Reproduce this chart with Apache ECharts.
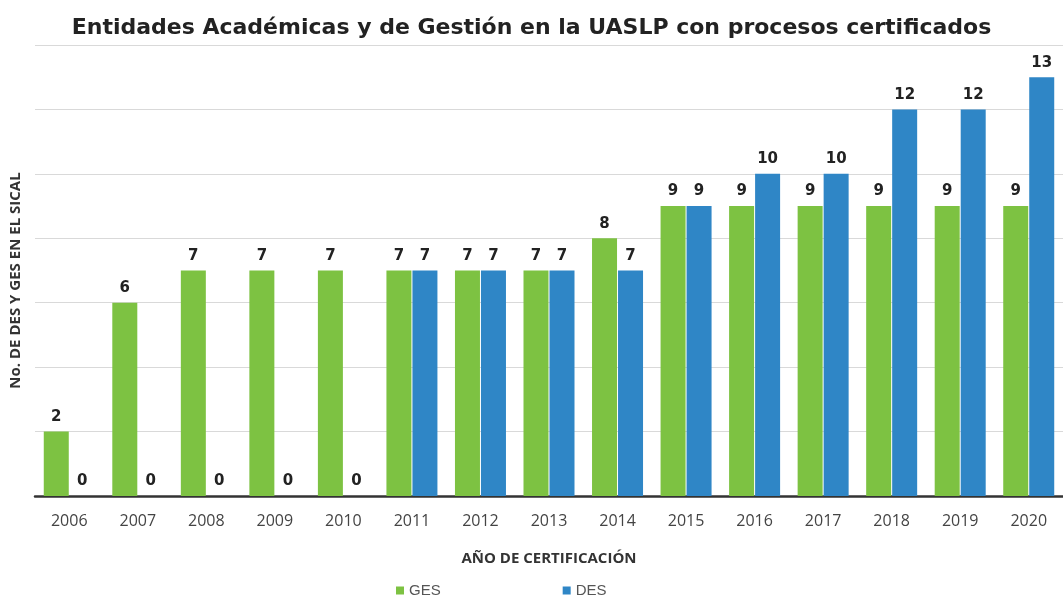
<!DOCTYPE html>
<html>
<head>
<meta charset="utf-8">
<script src="https://cdn.jsdelivr.net/npm/echarts@6/dist/echarts.min.js"></script>
<style>
  html, body { margin: 0; padding: 0; background: #fff; }
  #chart { width: 1063px; height: 603px; }
</style>
</head>
<body>
<div id="chart"></div>
<script>
// data
const years = ['2006', '2007', '2008', '2009', '2010', '2011', '2012', '2013', '2014', '2015', '2016', '2017', '2018', '2019', '2020']
const gesValues = [2, 6, 7, 7, 7, 7, 7, 7, 8, 9, 9, 9, 9, 9, 9]
const desValues = [0, 0, 0, 0, 0, 7, 7, 7, 7, 9, 10, 10, 12, 12, 13]

const chart = echarts.init(document.getElementById('chart'))

const labelStyle = {
  show: true,
  position: 'top',
  distance: 7,
  color: '#222',
  fontWeight: 'bold',
  fontSize: 15,
  fontFamily: 'DejaVu Sans'
}

chart.setOption({
  animation: false,
  title: {
    text: 'Entidades Académicas y de Gestión en la UASLP con procesos certificados',
    left: 'center',
    top: 12,
    textStyle: {
      fontFamily: 'DejaVu Sans',
      fontWeight: 'bold',
      fontSize: 22,
      color: '#222'
    }
  },
  legend: {
    bottom: 0,
    left: 391,
    itemGap: 122,
    itemWidth: 8,
    itemHeight: 8,
    icon: 'rect',
    textStyle: { color: '#555', fontSize: 15, fontFamily: 'Liberation Sans' },
    data: ['GES', 'DES']
  },
  grid: {
    left: 30,
    width: 1042,
    top: 45,
    bottom: 107
  },
  xAxis: {
    type: 'category',
    data: years,
    name: 'AÑO DE CERTIFICACIÓN',
    nameLocation: 'middle',
    nameGap: 55,
    nameTextStyle: {
      color: '#333',
      fontWeight: 'bold',
      fontSize: 15,
      fontFamily: 'Open Sans'
    },
    axisTick: { show: false },
    axisLine: { lineStyle: { color: '#333', width: 2.5 } },
    axisLabel: { color: '#444', fontSize: 16, margin: 17, fontFamily: 'Open Sans' }
  },
  yAxis: {
    type: 'value',
    min: 0,
    max: 14,
    interval: 2,
    name: 'No. DE DES Y GES EN EL SICAL',
    nameLocation: 'middle',
    nameGap: 12,
    nameTextStyle: {
      color: '#333',
      fontWeight: 'bold',
      fontSize: 15,
      fontFamily: 'Open Sans',
      padding: [0, 20, 0, 0]
    },
    axisLabel: { show: false },
    axisTick: { show: false },
    axisLine: { show: false },
    splitLine: { lineStyle: { color: '#d9d9d9', width: 1 } }
  },
  series: [
    {
      name: 'GES',
      type: 'bar',
      data: gesValues,
      barWidth: 25,
      barGap: '4%',
      itemStyle: { color: '#7dc242' },
      label: labelStyle
    },
    {
      name: 'DES',
      type: 'bar',
      data: desValues,
      barWidth: 25,
      itemStyle: { color: '#2f86c6' },
      label: labelStyle
    }
  ]
})
</script>
</body>
</html>
